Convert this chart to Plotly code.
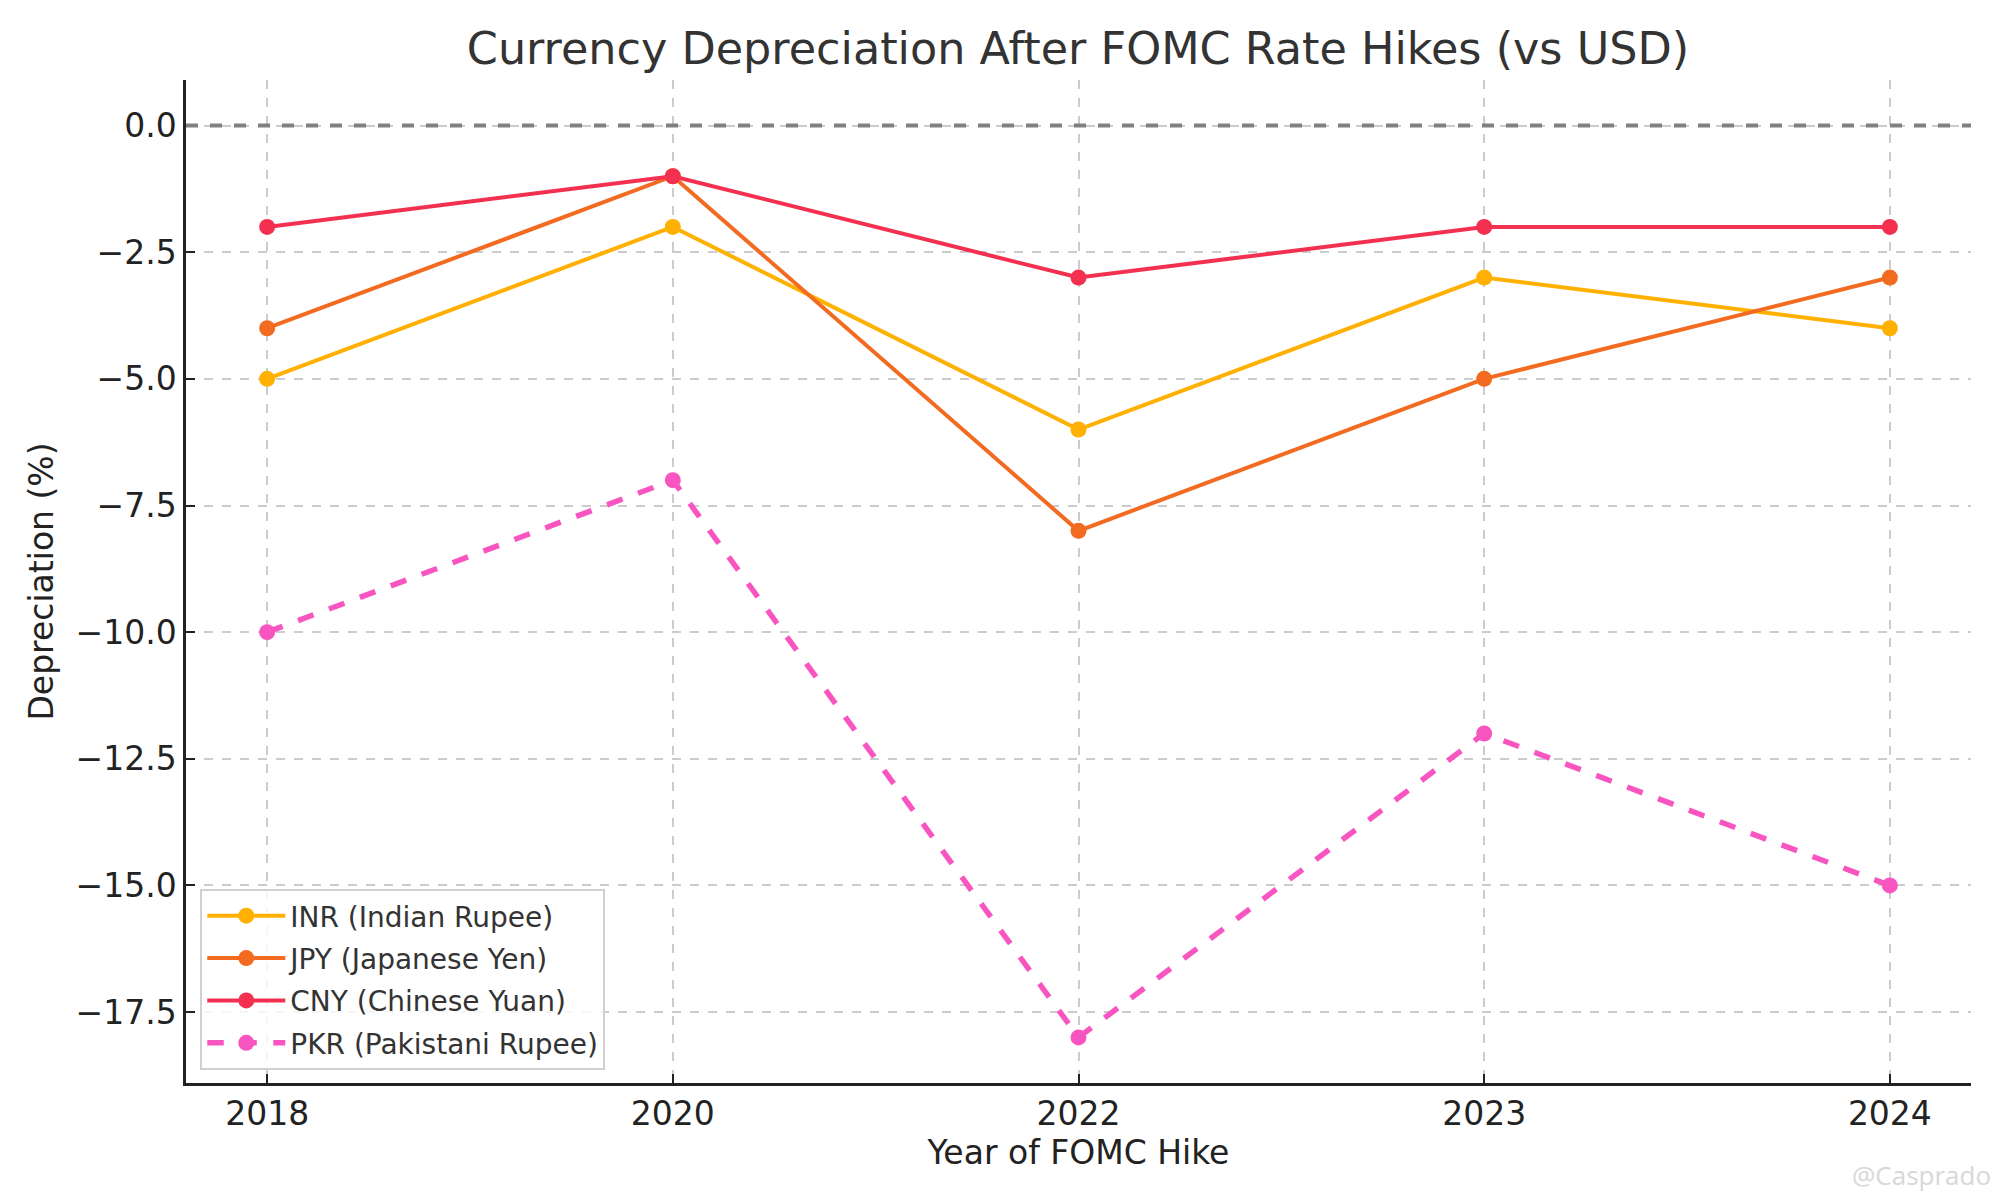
import plotly.graph_objects as go

years = ["2018", "2020", "2022", "2023", "2024"]
inr = [-5, -2, -6, -3, -4]
jpy = [-4, -1, -8, -5, -3]
cny = [-2, -1, -3, -2, -2]
pkr = [-10, -7, -18, -12, -15]

series = [
    ("INR (Indian Rupee)", inr, "#FFB000", "solid", 4),
    ("JPY (Japanese Yen)", jpy, "#F26B21", "solid", 4),
    ("CNY (Chinese Yuan)", cny, "#F3304F", "solid", 4),
    ("PKR (Pakistani Rupee)", pkr, "#F955C0", "dash", 5.5),
]

FONT = "DejaVu Sans"
fig = go.Figure()
for i, (name, vals, color, dash, w) in enumerate(series):
    fig.add_trace(go.Scatter(
        x=years, y=vals, name=name, mode="lines+markers",
        legendgroup=f"g{i}",
        line=dict(color=color, width=w, dash=dash),
        marker=dict(color=color, size=16),
    ))

fig.add_hline(y=0, line=dict(color="#808080", width=4, dash="dash"))

axis_common = dict(
    showgrid=True, gridcolor="#cccccc", gridwidth=1.5, griddash="dash",
    showline=True, linecolor="#222222", linewidth=2.5,
    ticks="inside", ticklen=9, tickwidth=2, tickcolor="#222222",
    tickfont=dict(family=FONT, size=33, color="#222222"),
    zeroline=False,
)

L, R, T, B = 178, 37, 72, 125

fig.update_layout(
    width=2000, height=1200,
    paper_bgcolor="white", plot_bgcolor="white",
    margin=dict(l=L, r=R, t=T, b=B),
    title=dict(text="Currency Depreciation After FOMC Rate Hikes (vs USD)",
               x=1070 / 2000, xanchor="center", y=1 - 40 / 1200, yanchor="middle",
               font=dict(family=FONT, size=44.5, color="#333333")),
    xaxis=dict(type="category", range=[-0.2, 4.2],
               title=dict(text="Year of FOMC Hike", font=dict(family=FONT, size=33, color="#222222"), standoff=8),
               **axis_common),
    yaxis=dict(range=[-18.9, 0.9], dtick=2.5, tick0=0, tickformat=".1f",
               title=dict(text="Depreciation (%)", font=dict(family=FONT, size=33, color="#222222"), standoff=12),
               **axis_common),
    legend=dict(x=0.008, y=0.013, xanchor="left", yanchor="bottom",
                bgcolor="rgba(255,255,255,0.8)", bordercolor="#d0d0d0", borderwidth=2,
                font=dict(family=FONT, size=28, color="#333333"),
                itemwidth=78, tracegroupgap=3),
    showlegend=True,
)

fig.add_annotation(text="@Casprado", xref="paper", yref="paper", x=1.0, y=0, xanchor="right",
                   yanchor="middle", xshift=22, yshift=-92, showarrow=False,
                   font=dict(family="Open Sans", size=26, color="#d8d8d8"))

fig.write_html("out.html")
